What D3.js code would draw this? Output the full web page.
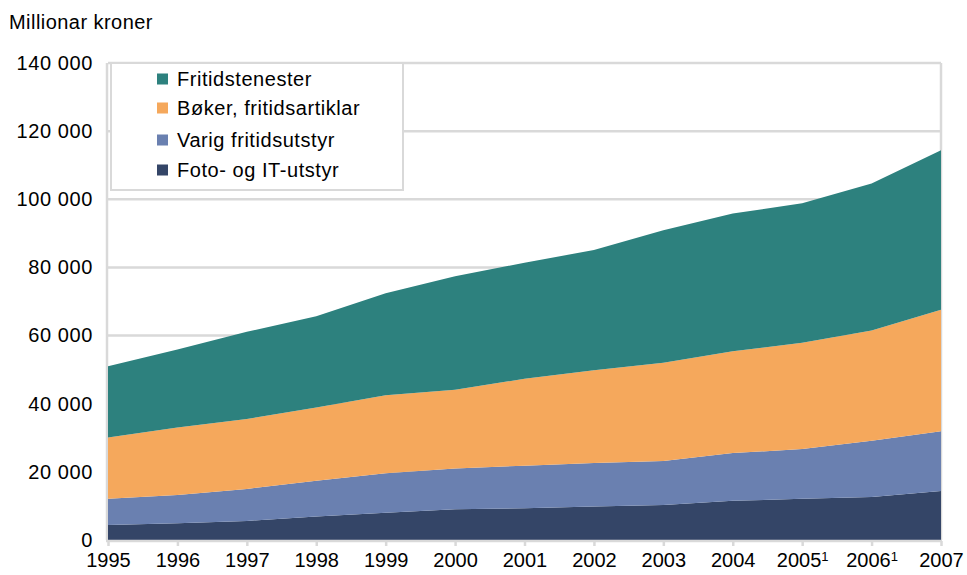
<!DOCTYPE html>
<html>
<head>
<meta charset="utf-8">
<script src="https://cdn.jsdelivr.net/npm/d3@7"></script>
<style>
  html, body { margin: 0; padding: 0; background: #fff; }
  svg { display: block; font-family: "Liberation Sans", Arial, sans-serif; }
</style>
</head>
<body>
<svg id="chart" width="967" height="575"></svg>
<script>
// ---- Data ----
const years = ["1995","1996","1997","1998","1999","2000","2001","2002","2003","2004","2005","2006","2007"];
const yearNotes = ["","","","","","","","","","","1","1",""];
const seriesNames = ["Foto- og IT-utstyr","Varig fritidsutstyr","Bøker, fritidsartiklar","Fritidstenester"];
const fotoIT = [4400,4900,5600,6900,8000,9000,9300,9800,10300,11500,12100,12600,14400];
const varig = [7700,8300,9400,10500,11600,12000,12500,12800,12900,14000,14600,16500,17500];
const boker = [18000,19800,20500,21500,22900,23100,25500,27200,28800,29900,31200,32400,35700];
const fritid = [20900,22900,25600,26800,29900,33300,34100,35300,38900,40400,40900,43100,46800];
const yTicks = [0,20000,40000,60000,80000,100000,120000,140000];
const legendOrder = ["Fritidstenester","Bøker, fritidsartiklar","Varig fritidsutstyr","Foto- og IT-utstyr"];
const colors = {
  "Foto- og IT-utstyr": "#344567",
  "Varig fritidsutstyr": "#6a80b0",
  "Bøker, fritidsartiklar": "#f5a85c",
  "Fritidstenester": "#2d817e"
};
const yTitle = "Millionar kroner";

(function () {
// ---- Build table ----
const seriesValues = [fotoIT, varig, boker, fritid];
const table = years.map((yr, i) => {
  const row = { year: yr };
  seriesNames.forEach((n, k) => row[n] = seriesValues[k][i]);
  return row;
});

const svg = d3.select("#chart");
const pLeft = 108, pRight = 941, pTop = 63, pBottom = 540;
const x = d3.scalePoint().domain(years).range([pLeft, pRight]);
const y = d3.scaleLinear().domain([0, 140000]).range([pBottom, pTop]);
const grid = "#d9d9d9";

const fmt = d3.formatLocale({ decimal: ",", thousands: " ", grouping: [3], currency: ["", ""] }).format(",");

// gridlines
svg.append("g").selectAll("line").data(yTicks.filter(d => d > 0)).join("line")
  .attr("x1", pLeft).attr("x2", pRight)
  .attr("y1", d => y(d)).attr("y2", d => y(d))
  .attr("stroke", grid).attr("stroke-width", 2.5);
// frame left/right
svg.append("line").attr("x1", pLeft - 1).attr("x2", pLeft - 1).attr("y1", pTop).attr("y2", pBottom)
  .attr("stroke", grid).attr("stroke-width", 2.5);
svg.append("line").attr("x1", pRight).attr("x2", pRight).attr("y1", pTop).attr("y2", pBottom)
  .attr("stroke", grid).attr("stroke-width", 2.5);

// stacked areas
const stacked = d3.stack().keys(seriesNames)(table);
const area = d3.area()
  .x(d => x(d.data.year))
  .y0(d => y(d[0]))
  .y1(d => y(d[1]));
svg.append("g").selectAll("path").data(stacked).join("path")
  .attr("d", area)
  .attr("fill", d => colors[d.key]);

// x axis
const xAxis = svg.append("g").attr("transform", `translate(0,${pBottom + 1})`)
  .call(d3.axisBottom(x).tickSize(5).tickPadding(7));
xAxis.select(".domain").attr("stroke", grid).attr("stroke-width", 2.5).attr("d", `M${pLeft - 2},0H${pRight + 1}`);
xAxis.selectAll(".tick line").attr("stroke", grid).attr("stroke-width", 2.5);
xAxis.selectAll(".tick text")
  .attr("fill", "#000").attr("font-size", 20).attr("dy", "0.71em")
  .each(function (d) {
    const t = d3.select(this);
    t.text(d);
    const note = yearNotes[years.indexOf(d)];
    if (note) {
      t.append("tspan").attr("font-size", 13).attr("dy", "-0.45em").text(note);
    }
  });

// y axis
const yAxis = svg.append("g").attr("transform", `translate(${pLeft},0)`)
  .call(d3.axisLeft(y).tickValues(yTicks).tickFormat(d => fmt(d)).tickSize(0).tickPadding(15));
yAxis.select(".domain").remove();
yAxis.selectAll(".tick text").attr("fill", "#000").attr("font-size", 20).attr("letter-spacing", "0.6px");

// y title
svg.append("text").attr("x", 9).attr("y", 29).attr("font-size", 20).attr("letter-spacing", "0.45px")
  .attr("fill", "#000").text(yTitle);

// legend
const lg = svg.append("g");
lg.append("rect").attr("x", 111).attr("y", 63).attr("width", 292).attr("height", 127)
  .attr("fill", "#fff").attr("stroke", grid).attr("stroke-width", 2);
const rowsY = [79, 108, 140, 170];
legendOrder.forEach((name, i) => {
  lg.append("rect").attr("x", 157).attr("y", rowsY[i] - 5.5).attr("width", 11).attr("height", 11)
    .attr("fill", colors[name]);
  lg.append("text").attr("x", 177).attr("y", rowsY[i] + 7).attr("font-size", 20).attr("letter-spacing", "0.55px")
    .attr("fill", "#000").text(name);
});
})();
</script>
</body>
</html>
